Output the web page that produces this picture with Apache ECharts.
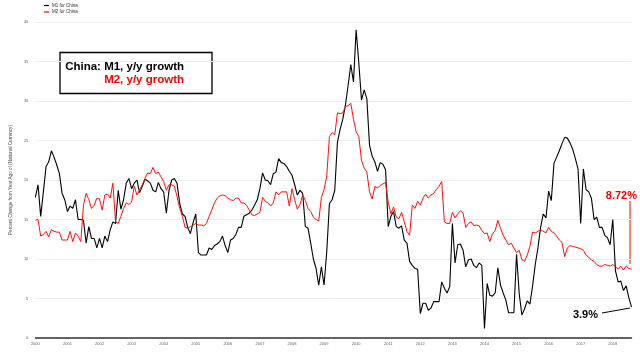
<!DOCTYPE html>
<html>
<head>
<meta charset="utf-8">
<script src="https://cdn.jsdelivr.net/npm/echarts@6/dist/echarts.min.js"></script>
<style>
  html, body { margin: 0; padding: 0; background: #fff; }
  #chart { width: 640px; height: 354px; }
</style>
</head>
<body>
<div id="chart"></div>
<script>
// monthly, Jan 2000 .. Aug 2018
const firstYear = 2000;
const lastYear = 2018;
const lastMonth = 8;

// M1 for China, percent change from year ago
const m1 = [
  17.8, 19.4, 15.4, 18.5, 21.7, 22.3, 23.7, 22.9, 21.9, 20.8, 18.3, 17.5, // 2000
  16.0, 16.7, 16.4, 17.5, 15.0, 15.0, 14.9, 12.0, 14.1, 12.6, 12.6, 11.4, // 2001
  12.6, 11.4, 12.9, 12.2, 13.7, 14.7, 14.5, 18.7, 16.3, 17.5, 19.6, 20.2, // 2002
  18.9, 19.6, 20.0, 18.4, 19.2, 20.1, 19.9, 19.6, 18.7, 18.5, 19.7, 18.9, // 2003
  18.5, 15.8, 18.7, 20.0, 20.2, 19.6, 17.0, 15.7, 15.4, 14.0, 13.2, 14.6, // 2004
  15.7, 10.8, 10.5, 10.5, 10.5, 11.4, 11.2, 11.7, 11.9, 12.2, 12.9, 11.7, // 2005
  10.8, 12.4, 12.6, 13.1, 14.0, 14.0, 15.4, 15.6, 15.8, 16.2, 16.8, 17.5, // 2006
  18.9, 20.9, 20.0, 19.9, 19.4, 20.8, 21.0, 22.7, 22.2, 22.1, 21.7, 21.1, // 2007
  20.6, 19.4, 18.1, 18.7, 18.3, 14.1, 13.9, 12.0, 10.0, 8.8, 6.7, 9.0,    // 2008
  6.7, 10.9, 17.0, 17.5, 18.7, 24.8, 26.4, 27.7, 29.5, 32.0, 34.6, 32.4,  // 2009
  39.0, 34.8, 30.1, 31.4, 30.3, 24.4, 23.0, 22.3, 21.1, 22.2, 22.0, 21.3, // 2010
  14.1, 15.4, 16.0, 14.1, 13.9, 14.2, 12.4, 12.0, 9.7, 9.2, 8.8, 8.7,     // 2011
  3.1, 4.4, 4.4, 3.5, 3.8, 4.6, 4.6, 4.6, 7.1, 6.3, 5.7, 6.5,             // 2012
  14.5, 9.5, 11.8, 11.9, 11.1, 9.0, 9.9, 10.0, 9.2, 8.9, 9.5, 9.2,        // 2013
  1.2, 6.9, 5.4, 5.3, 5.7, 8.9, 6.7, 5.7, 4.8, 3.2, 3.2, 3.2,             // 2014
  10.6, 5.6, 2.9, 3.7, 4.7, 4.3, 6.6, 9.3, 11.4, 14.0, 15.7, 15.2,        // 2015
  18.6, 17.4, 22.1, 22.9, 23.7, 24.6, 25.4, 25.3, 24.7, 23.9, 22.7, 21.4, // 2016
  14.5, 21.4, 18.8, 18.5, 17.7, 15.0, 15.3, 14.0, 14.0, 13.0, 12.7, 11.8, // 2017
  15.0, 8.5, 7.1, 7.2, 6.0, 6.6, 5.1, 3.9                                 // 2018
];

// M2 for China, percent change from year ago
const m2 = [
  14.9, 15.0, 12.9, 13.1, 13.5, 12.8, 13.7, 13.5, 13.4, 13.4, 12.4, 12.4, // 2000
  12.4, 13.5, 12.2, 13.3, 12.9, 12.2, 16.8, 18.3, 17.5, 16.4, 16.8, 17.7, // 2001
  17.6, 16.2, 18.1, 18.2, 17.7, 19.6, 14.7, 14.5, 15.4, 16.4, 17.1, 16.9, // 2002
  17.2, 19.2, 18.1, 18.7, 19.4, 20.2, 20.9, 20.8, 21.6, 20.8, 21.0, 20.4, // 2003
  19.8, 18.7, 19.4, 19.4, 19.2, 17.9, 16.4, 15.4, 14.0, 13.9, 14.1, 14.3, // 2004
  14.5, 14.3, 14.3, 14.2, 14.5, 15.4, 16.2, 17.1, 17.7, 18.0, 18.1, 18.0, // 2005
  17.7, 17.5, 17.4, 17.7, 17.7, 17.1, 17.1, 16.8, 16.2, 15.6, 15.5, 15.7, // 2006
  15.9, 17.8, 17.3, 17.1, 16.7, 17.1, 18.5, 18.1, 18.5, 18.5, 18.5, 16.7, // 2007
  18.9, 17.5, 16.3, 16.9, 18.1, 17.4, 16.4, 16.0, 15.3, 15.0, 14.8, 17.8, // 2008
  18.8, 20.5, 25.5, 26.0, 25.7, 28.5, 28.4, 28.5, 29.3, 29.4, 29.7, 27.7, // 2009
  26.1, 25.5, 22.5, 21.5, 21.0, 18.5, 17.6, 19.2, 19.0, 19.3, 19.5, 19.7, // 2010
  17.2, 15.7, 16.6, 15.3, 15.1, 15.9, 14.7, 13.5, 13.0, 16.8, 16.4, 17.3, // 2011
  16.8, 17.7, 18.2, 17.7, 18.1, 18.3, 18.8, 19.2, 19.8, 14.7, 14.5, 14.5, // 2012
  15.9, 15.2, 15.7, 16.1, 15.8, 14.0, 14.5, 14.7, 14.2, 14.3, 14.2, 13.6, // 2013
  13.2, 13.3, 12.2, 13.2, 13.6, 14.9, 13.9, 13.0, 12.4, 11.8, 12.0, 11.4, // 2014
  10.8, 11.1, 9.9, 9.7, 10.5, 11.6, 13.4, 13.3, 13.5, 13.7, 13.5, 13.3,   // 2015
  14.0, 13.5, 13.3, 12.9, 12.4, 12.1, 10.3, 11.4, 11.7, 11.6, 11.5, 11.4, // 2016
  11.3, 11.1, 10.5, 10.2, 9.9, 9.7, 9.3, 9.1, 9.1, 9.3, 9.2, 9.1,         // 2017
  9.3, 9.0, 8.7, 9.1, 8.6, 9.1, 8.8, 8.7                                  // 2018
];

const yTicks = { min: 0, max: 40, interval: 5 };

const months = [];
for (let y = firstYear; y <= lastYear; y++) {
  for (let m = 1; m <= 12; m++) {
    if (y === lastYear && m > lastMonth) break;
    months.push(y + '-' + (m < 10 ? '0' + m : m));
  }
}

const font = 'Liberation Sans, Arial, sans-serif';
const chart = echarts.init(document.getElementById('chart'));

const option = {
  animation: false,
  backgroundColor: '#fff',
  textStyle: { fontFamily: font },
  grid: { left: 25.5, right: 8.5, top: 22, bottom: 16 },
  legend: {
    orient: 'vertical',
    left: 42,
    top: 1,
    padding: 2,
    itemWidth: 5,
    itemHeight: 1.2,
    itemGap: 1.5,
    textStyle: { fontSize: 4.5, color: '#333', padding: [0, 0, 0, -2] },
    data: [
      { name: 'M1 for China', icon: 'rect' },
      { name: 'M2 for China', icon: 'rect' }
    ]
  },
  xAxis: {
    type: 'category',
    data: months,
    boundaryGap: false,
    axisLine: { lineStyle: { color: '#333', width: 1.5 } },
    axisTick: { show: false },
    axisLabel: {
      fontSize: 4,
      color: '#666',
      margin: 4,
      interval: (idx) => idx % 12 === 0,
      formatter: (v) => v.slice(0, 4)
    },
    splitLine: { show: false }
  },
  yAxis: {
    type: 'value',
    min: yTicks.min,
    max: yTicks.max,
    interval: yTicks.interval,
    name: 'Percent Change from Year Ago of (National Currency)',
    nameLocation: 'middle',
    nameGap: 16,
    nameTextStyle: { fontSize: 4.6, color: '#444' },
    axisLine: { show: false },
    axisTick: { show: false },
    axisLabel: { fontSize: 4, color: '#666', margin: 7 },
    splitLine: { lineStyle: { color: '#efefef', width: 1 } }
  },
  series: [
    {
      name: 'M1 for China',
      type: 'line',
      data: m1,
      symbol: 'none',
      color: '#000',
      lineStyle: { color: '#000', width: 1.1 }
    },
    {
      name: 'M2 for China',
      type: 'line',
      data: m2,
      symbol: 'none',
      color: '#ff0000',
      lineStyle: { color: '#ff1010', width: 1 }
    }
  ],
  graphic: [
    {
      type: 'rect',
      shape: { x: 60, y: 52.5, width: 152, height: 41 },
      style: { fill: '#fff', stroke: '#000', lineWidth: 1.3 }
    },
    {
      type: 'text',
      x: 184, y: 66.5,
      style: {
        text: 'China: M1, y/y growth', align: 'right', verticalAlign: 'middle',
        font: 'bold 11.5px ' + font, fill: '#000'
      }
    },
    {
      type: 'text',
      x: 184, y: 79.5,
      style: {
        text: 'M2, y/y growth', align: 'right', verticalAlign: 'middle',
        font: 'bold 11.5px ' + font, fill: '#ff0000'
      }
    },
    {
      type: 'text',
      x: 637, y: 196,
      style: {
        text: '8.72%', align: 'right', verticalAlign: 'middle',
        font: 'bold 11px ' + font, fill: '#ff0000'
      }
    },
    {
      type: 'line',
      shape: { x1: 630, y1: 201, x2: 630, y2: 264 },
      style: { stroke: '#ff0000', lineWidth: 1 }
    },
    {
      type: 'text',
      x: 598, y: 315,
      style: {
        text: '3.9%', align: 'right', verticalAlign: 'middle',
        font: 'bold 11px ' + font, fill: '#000'
      }
    },
    {
      type: 'line',
      shape: { x1: 602, y1: 313, x2: 630, y2: 308 },
      style: { stroke: '#000', lineWidth: 1 }
    }
  ]
};

chart.setOption(option);
</script>
</body>
</html>
